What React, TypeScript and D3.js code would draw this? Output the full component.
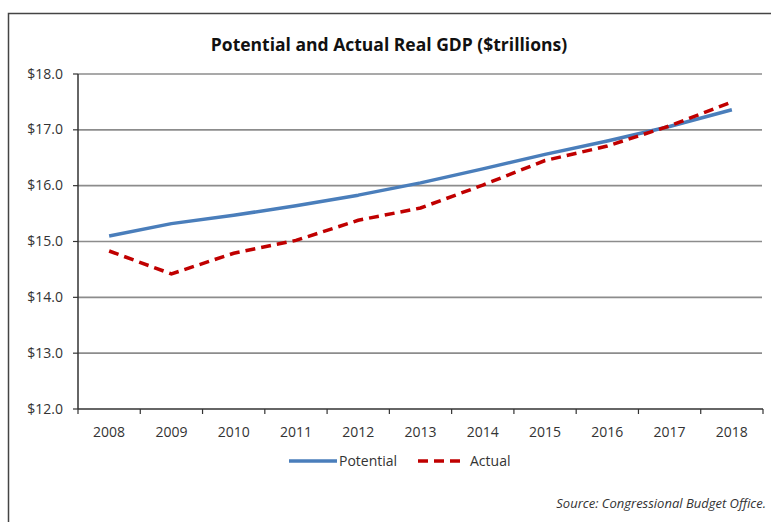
import React from "react";
import * as d3 from "d3";

const years = ["2008","2009","2010","2011","2012","2013","2014","2015","2016","2017","2018"];
const potential = [15.10, 15.32, 15.47, 15.64, 15.83, 16.05, 16.30, 16.56, 16.80, 17.06, 17.36];
const actual = [14.83, 14.42, 14.79, 15.02, 15.38, 15.60, 16.01, 16.45, 16.71, 17.07, 17.50];
const yTicks = [12, 13, 14, 15, 16, 17, 18];

const W = 771, H = 522;
const plot = { left: 78, right: 763, top: 74, bottom: 409 };
const FONT = "'Open Sans', sans-serif";

export default function App() {
  const x = d3.scaleBand().domain(years).range([plot.left, plot.right]);
  const y = d3.scaleLinear().domain([12, 18]).range([plot.bottom, plot.top]);
  const line = d3.line<number>().x((_, i) => (x(years[i]) as number) + x.bandwidth() / 2).y(d => y(d));
  const boundaries = d3.range(years.length + 1).map(i => plot.left + i * x.step());
  return (
    <svg width={W} height={H} style={{ position: "absolute", left: 0, top: 0, background: "#fff" }}>
      <rect x={8.5} y={13.5} width={W + 10} height={H + 10} fill="#fff" stroke="#444" strokeWidth={1.5} />
      <text x={389} y={51} textAnchor="middle" fontFamily={FONT} fontWeight="bold" fontSize={17.5} fill="#111">
        Potential and Actual Real GDP ($trillions)
      </text>
      {yTicks.map(t => (
        <g key={t}>
          {t > 12 && <line x1={plot.left} x2={762} y1={y(t)} y2={y(t)} stroke="#8c8c8c" strokeWidth={1.6} />}
          <line x1={plot.left - 5} x2={plot.left} y1={y(t)} y2={y(t)} stroke="#333" strokeWidth={1.2} />
          <text x={63} y={y(t) + 4.5} textAnchor="end" fontFamily={FONT} fontSize={14} fill="#333">{"$" + t.toFixed(1)}</text>
        </g>
      ))}
      <line x1={plot.left} x2={plot.left} y1={plot.top} y2={plot.bottom} stroke="#333" strokeWidth={1.5} />
      <line x1={plot.left} x2={plot.right} y1={plot.bottom} y2={plot.bottom} stroke="#333" strokeWidth={1.5} />
      {boundaries.map((b, i) => (
        <line key={i} x1={b} x2={b} y1={plot.bottom} y2={plot.bottom + 5} stroke="#333" strokeWidth={1.2} />
      ))}
      {years.map(yr => (
        <text key={yr} x={(x(yr) as number) + x.bandwidth() / 2} y={437} textAnchor="middle" fontFamily={FONT} fontSize={14} fill="#333">{yr}</text>
      ))}
      <path d={line(potential) || ""} fill="none" stroke="#4a7ebb" strokeWidth={3.5} strokeLinejoin="round" />
      <path d={line(actual) || ""} fill="none" stroke="#c00000" strokeWidth={3.5} strokeDasharray="10 6" />
      <line x1={289} x2={337} y1={461} y2={461} stroke="#4a7ebb" strokeWidth={3.5} />
      <text x={339} y={466} fontFamily={FONT} fontSize={14} fill="#333">Potential</text>
      <line x1={418} x2={466} y1={461} y2={461} stroke="#c00000" strokeWidth={3.5} strokeDasharray="10 6" />
      <text x={470} y={466} fontFamily={FONT} fontSize={14} fill="#333">Actual</text>
      <text x={766} y={508} textAnchor="end" fontFamily={FONT} fontStyle="italic" fontSize={13} fill="#333">Source: Congressional Budget Office.</text>
    </svg>
  );
}
